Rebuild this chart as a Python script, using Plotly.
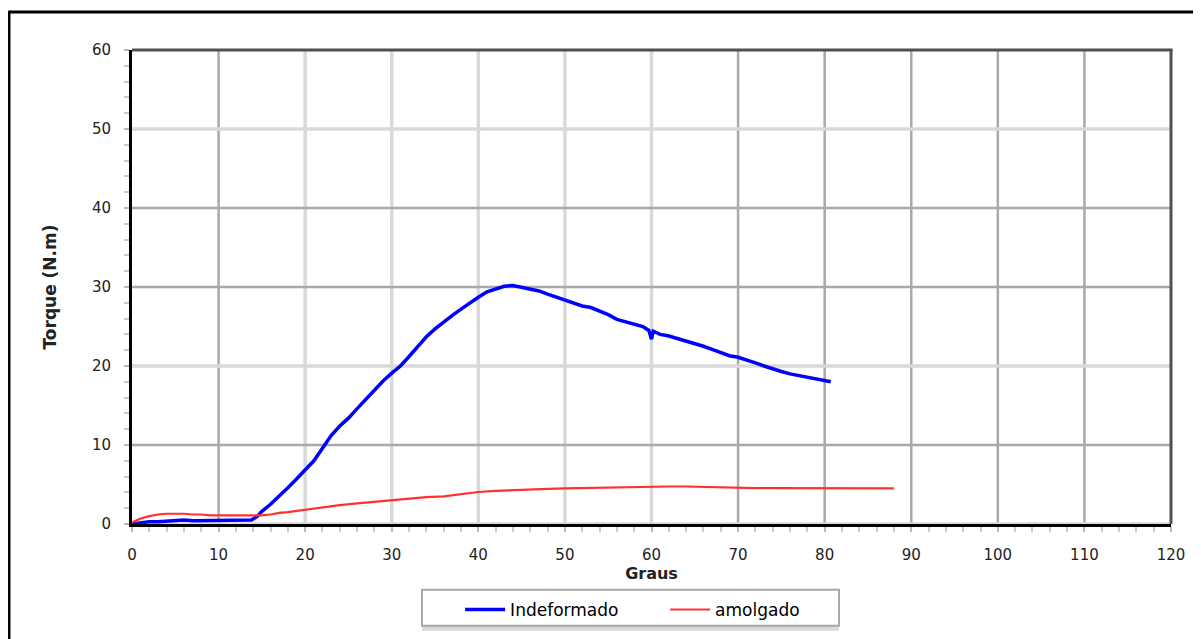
import plotly.graph_objects as go

# ---- data ----
graus_indeformado = [0, 0.5, 1, 2, 3, 4, 5, 6, 7, 8, 9, 10, 11, 12, 13, 13.8, 14.5, 15, 16, 17, 18, 19,
                     20, 21, 22, 23, 24, 25, 26, 27, 28, 29, 30, 31, 32, 33, 34, 35, 36, 37, 38, 39,
                     40, 41, 42, 43, 44, 45, 46, 47, 48, 49, 50, 51, 52, 53, 54, 55, 56, 57, 58, 59,
                     59.7, 60, 60.2, 61, 62, 63, 64, 65, 66, 67, 68, 69, 70, 71, 72, 73, 74, 75, 76,
                     77, 78, 79, 80, 80.7]
torque_indeformado = [0, 0.1, 0.2, 0.3, 0.3, 0.4, 0.5, 0.5, 0.4, 0.4, 0.4, 0.4, 0.4, 0.4, 0.4, 0.5, 1.0,
                      1.6, 2.5, 3.5, 4.6, 5.7, 6.8, 8.0, 9.6, 11.2, 12.4, 13.4, 14.6, 15.8, 17.0, 18.1,
                      19.1, 20.0, 21.2, 22.5, 23.7, 24.7, 25.6, 26.4, 27.2, 28.0, 28.7, 29.4, 29.8, 30.1,
                      30.2, 30.0, 29.8, 29.5, 29.1, 28.7, 28.3, 28.0, 27.6, 27.4, 27.0, 26.5, 25.9, 25.6,
                      25.4, 25.0, 24.5, 23.4, 24.4, 24.0, 23.8, 23.5, 23.2, 22.8, 22.5, 22.1, 21.7, 21.3,
                      21.1, 20.8, 20.4, 20.0, 19.6, 19.3, 19.0, 18.8, 18.5, 18.3, 18.1, 18.0]

graus_amolgado = [0, 0.5, 1, 2, 3, 4, 5, 6, 7, 8, 9, 10, 12, 14, 15, 16, 17, 18, 20, 22, 24, 26, 28,
                  30, 32, 34, 36, 38, 40, 42, 44, 46, 48, 50, 52, 54, 56, 58, 60, 62, 64, 66, 68, 70,
                  72, 74, 76, 78, 80, 82, 84, 86, 88]
torque_amolgado = [0.2, 0.5, 0.7, 1.0, 1.2, 1.3, 1.3, 1.3, 1.2, 1.2, 1.1, 1.1, 1.1, 1.1, 1.1, 1.2, 1.4,
                   1.5, 1.8, 2.1, 2.4, 2.6, 2.8, 3.0, 3.2, 3.4, 3.5, 3.8, 4.05, 4.2, 4.3, 4.4, 4.45,
                   4.5, 4.55, 4.6, 4.65, 4.7, 4.7, 4.75, 4.75, 4.7, 4.6, 4.55, 4.55, 4.55, 4.55, 4.55,
                   4.55, 4.55, 4.5, 4.5, 4.5]

x_ticks = [0, 10, 20, 30, 40, 50, 60, 70, 80, 90, 100, 110, 120]
y_ticks = [0, 10, 20, 30, 40, 50, 60]
grid_x_dark = [10, 70, 80, 90, 100, 110]
grid_x_light = [20, 30, 40, 50, 60]
grid_y_dark = [10, 30, 40]
grid_y_light = [0, 20, 50]

FONT = "DejaVu Sans"

fig = go.Figure()
fig.add_trace(go.Scatter(x=graus_indeformado, y=torque_indeformado, mode="lines",
                         name="Indeformado", line=dict(color="#0000ff", width=3.5)))
fig.add_trace(go.Scatter(x=graus_amolgado, y=torque_amolgado, mode="lines",
                         name="amolgado", line=dict(color="#ff3030", width=2.2)))

shapes = []
for v in grid_x_dark:
    shapes.append(dict(type="line", xref="x", yref="paper", x0=v, x1=v, y0=0, y1=1,
                       line=dict(color="#a9a9a9", width=2.5), layer="below"))
for v in grid_x_light:
    shapes.append(dict(type="line", xref="x", yref="paper", x0=v, x1=v, y0=0, y1=1,
                       line=dict(color="#d9d9d9", width=3.5), layer="below"))
for v in grid_y_dark:
    shapes.append(dict(type="line", xref="paper", yref="y", x0=0, x1=1, y0=v, y1=v,
                       line=dict(color="#a9a9a9", width=2.5), layer="below"))
for v in grid_y_light:
    shapes.append(dict(type="line", xref="paper", yref="y", x0=0, x1=1, y0=v, y1=v,
                       line=dict(color="#d9d9d9", width=3.5), layer="below"))
# top / right frame of plot area
shapes.append(dict(type="line", xref="paper", yref="paper", x0=0, x1=1.0015, y0=1, y1=1,
                   line=dict(color="#505050", width=3)))
shapes.append(dict(type="line", xref="paper", yref="paper", x0=1, x1=1, y0=0, y1=1,
                   line=dict(color="#505050", width=3)))
# outer chart border (left / top)
shapes.append(dict(type="line", xref="paper", yref="paper", x0=-0.1184, x1=-0.1184, y0=-0.25, y1=1.083,
                   line=dict(color="black", width=3)))
shapes.append(dict(type="line", xref="paper", yref="paper", x0=-0.1184, x1=1.04, y0=1.08, y1=1.08,
                   line=dict(color="black", width=3)))
# legend box + shadow
shapes.append(dict(type="rect", xref="paper", yref="paper", x0=0.2791, x1=0.6805, y0=-0.2253, y1=-0.2147,
                   line=dict(width=0), fillcolor="#d8d8d8"))
shapes.append(dict(type="rect", xref="paper", yref="paper", x0=0.2791, x1=0.6805, y0=-0.2147, y1=-0.1389,
                   line=dict(color="#a8a8a8", width=2), fillcolor="white"))

axis_common = dict(showgrid=False, zeroline=False, showline=True, linecolor="black", linewidth=3,
                   ticks="outside", ticklen=5, tickwidth=2, tickcolor="#b8b8b8",
                   tickfont=dict(family=FONT, size=15, color="#222222"),
                   minor=dict(dtick=2, ticks="outside", ticklen=5, tickwidth=2, tickcolor="#c8c8c8",
                              showgrid=False))

fig.update_xaxes(range=[0, 120], tickvals=x_ticks, ticktext=[str(v) for v in x_ticks],
                 title=dict(text="<b>Graus</b>", font=dict(family=FONT, size=16, color="#222222"), standoff=2),
                 ticklabelstandoff=10, **axis_common)
fig.update_yaxes(range=[0, 60], tickvals=y_ticks, ticktext=[str(v) for v in y_ticks],
                 title=dict(text="<b>Torque (N.m)</b>", font=dict(family=FONT, size=17, color="#222222"),
                            standoff=31),
                 ticklabelstandoff=10, **axis_common)

fig.update_layout(
    width=1193, height=631,
    margin=dict(l=124, r=30, t=42, b=114),
    paper_bgcolor="white", plot_bgcolor="white",
    shapes=shapes,
    showlegend=True,
    legend=dict(orientation="h", x=0.3158, y=-0.141, xanchor="left", yanchor="top",
                bgcolor="rgba(0,0,0,0)", borderwidth=0,
                font=dict(family=FONT, size=17, color="black"),
                entrywidth=150, entrywidthmode="pixels", itemwidth=40),
)

fig.write_html("out.html")
